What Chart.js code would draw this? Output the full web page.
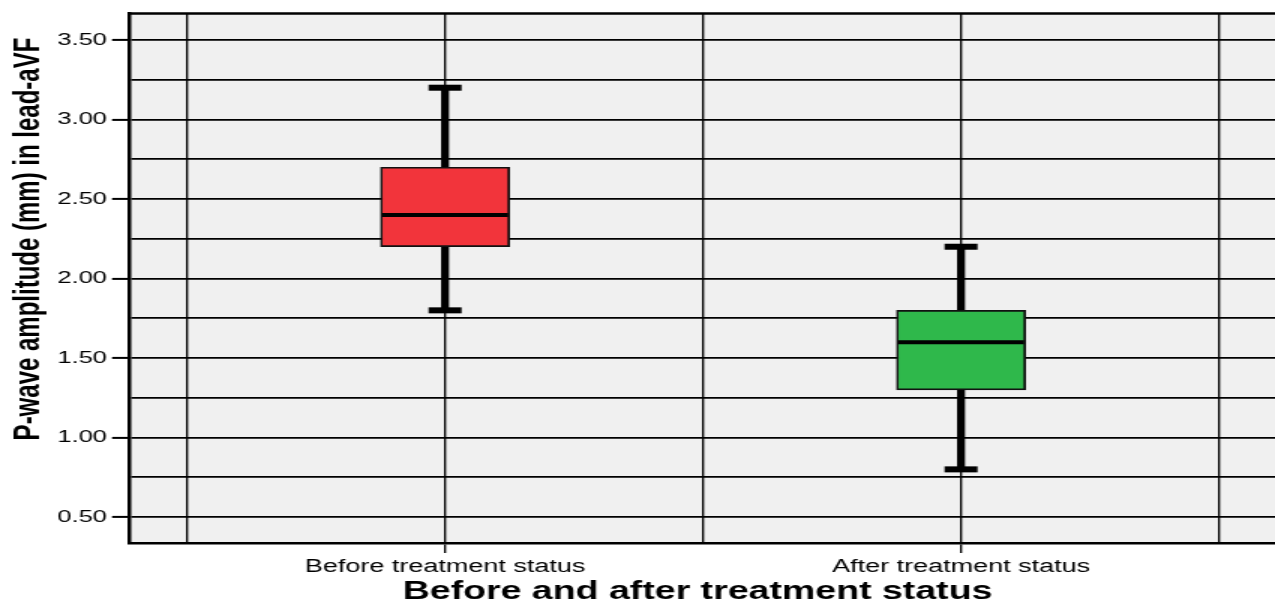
<!DOCTYPE html>
<html>
<head>
<meta charset="utf-8">
<script src="https://cdn.jsdelivr.net/npm/chart.js@4.4.1/dist/chart.umd.min.js"></script>
<style>
  html, body { margin: 0; padding: 0; background: #ffffff; overflow: hidden; }
</style>
</head>
<body>
<!-- the chart is drawn on a narrower canvas and stretched horizontally -->
<canvas id="c" width="850" height="604" style="display:block;width:1275px;height:604px"></canvas>
<script>
// ---- data ----
const categories  = ['Before treatment status', 'After treatment status'];
const catX        = [1, 3];            // position of each group on the x scale
const whiskerLow  = [1.80, 0.80];
const q1          = [2.20, 1.30];
const median      = [2.40, 1.60];
const q3          = [2.70, 1.80];
const whiskerHigh = [3.20, 2.20];
const boxColors   = ['#F2343B', '#2FB84B'];

const yGrid   = [0.50, 0.75, 1.00, 1.25, 1.50, 1.75, 2.00, 2.25, 2.50, 2.75, 3.00, 3.25, 3.50];
const yLabels = [0.50, 1.00, 1.50, 2.00, 2.50, 3.00, 3.50];
const xGrid   = [0, 1, 2, 3, 4];

const yTitle = 'P-wave amplitude (mm) in lead-aVF';
const xTitle = 'Before and after treatment status';

const FONT = "'Liberation Sans', Arial, Helvetica, sans-serif";
const isYLabel = v => yLabels.some(l => Math.abs(l - v) < 1e-9);

// whiskers, caps, medians, plot background and axis titles
const boxplotExtras = {
  id: 'boxplotExtras',
  beforeDraw(chart) {
    const { ctx, chartArea: a } = chart;
    ctx.save();
    ctx.fillStyle = '#F0F0F0';
    ctx.fillRect(a.left, a.top, a.right - a.left, a.bottom - a.top);
    ctx.restore();
  },
  beforeDatasetsDraw(chart) {
    const { ctx, scales: { x, y } } = chart;
    ctx.save();
    ctx.strokeStyle = '#000';
    ctx.fillStyle = '#000';
    ctx.lineWidth = 5.3;
    ctx.lineCap = 'butt';
    catX.forEach((cx, i) => {
      const px = x.getPixelForValue(cx);
      ctx.beginPath();
      ctx.moveTo(px, y.getPixelForValue(whiskerLow[i]));
      ctx.lineTo(px, y.getPixelForValue(q1[i]));
      ctx.moveTo(px, y.getPixelForValue(q3[i]));
      ctx.lineTo(px, y.getPixelForValue(whiskerHigh[i]));
      ctx.stroke();
      [whiskerLow[i], whiskerHigh[i]].forEach(v => {
        const py = y.getPixelForValue(v);
        ctx.fillRect(px - 11, py - 3, 22, 6);
      });
    });
    ctx.restore();
  },
  afterDatasetsDraw(chart) {
    const { ctx, scales: { y } } = chart;
    const bars = chart.getDatasetMeta(0).data;
    ctx.save();
    ctx.strokeStyle = '#000';
    ctx.lineWidth = 4;
    bars.forEach((bar, i) => {
      const { x, width } = bar.getProps(['x', 'width'], true);
      const py = y.getPixelForValue(median[i]);
      ctx.beginPath();
      ctx.moveTo(x - width / 2 + 1, py);
      ctx.lineTo(x + width / 2 - 1, py);
      ctx.stroke();
    });
    ctx.restore();
  },
  afterDraw(chart) {
    const { ctx, chartArea: a } = chart;
    ctx.save();
    // top frame line
    ctx.strokeStyle = '#000';
    ctx.lineWidth = 2.5;
    ctx.beginPath();
    ctx.moveTo(a.left - 1, a.top);
    ctx.lineTo(a.right, a.top);
    ctx.stroke();
    // axis titles
    ctx.fillStyle = '#000';
    ctx.textAlign = 'center';
    ctx.textBaseline = 'middle';
    ctx.font = 'bold 25px ' + FONT;
    ctx.fillText(xTitle, 465, 592);
    ctx.translate(19, 239);
    ctx.rotate(-Math.PI / 2);
    ctx.font = 'bold 24px ' + FONT;
    ctx.fillText(yTitle, 0, 0);
    ctx.restore();
  }
};

new Chart(document.getElementById('c'), {
  type: 'bar',
  data: {
    datasets: [{
      data: catX.map((cx, i) => ({ x: cx, y: [q1[i], q3[i]] })),
      backgroundColor: boxColors,
      borderColor: '#111111',
      borderWidth: 1.7,
      borderSkipped: false,
      barThickness: 86
    }]
  },
  options: {
    responsive: false,
    animation: false,
    devicePixelRatio: 1,
    layout: { padding: { top: 12, right: 0, bottom: 0, left: 0 } },
    plugins: { legend: { display: false }, tooltip: { enabled: false } },
    scales: {
      x: {
        type: 'linear',
        offset: false,
        min: -0.225,
        max: 4.217,
        afterBuildTicks: s => { s.ticks = xGrid.map(v => ({ value: v })); },
        afterFit: s => { s.height = 61; },
        grid: {
          offset: false,
          color: '#000',
          lineWidth: 1.35,
          drawTicks: true,
          tickLength: 10,
          tickWidth: 1.35,
          tickColor: c => (c.tick && catX.includes(c.tick.value)) ? '#000' : 'rgba(0,0,0,0)'
        },
        border: { display: true, color: '#000', width: 2.5 },
        ticks: {
          autoSkip: false,
          maxRotation: 0,
          padding: 3,
          color: '#000',
          font: { family: FONT, size: 18 },
          callback: v => { const i = catX.indexOf(v); return i >= 0 ? categories[i] : ''; }
        }
      },
      y: {
        type: 'linear',
        min: 0.337,
        max: 3.666,
        afterBuildTicks: s => { s.ticks = yGrid.map(v => ({ value: v })); },
        afterFit: s => { s.width = 86; },
        grid: {
          color: '#000',
          lineWidth: 1.8,
          drawTicks: true,
          tickLength: 11.3,
          tickWidth: 2,
          tickColor: c => (c.tick && isYLabel(c.tick.value)) ? '#000' : 'rgba(0,0,0,0)'
        },
        border: { display: true, color: '#000', width: 2.5 },
        ticks: {
          autoSkip: false,
          padding: 3.4,
          color: '#000',
          font: { family: FONT, size: 17 },
          callback: v => isYLabel(v) ? v.toFixed(2) : ''
        }
      }
    }
  },
  plugins: [boxplotExtras]
});
</script>
</body>
</html>
